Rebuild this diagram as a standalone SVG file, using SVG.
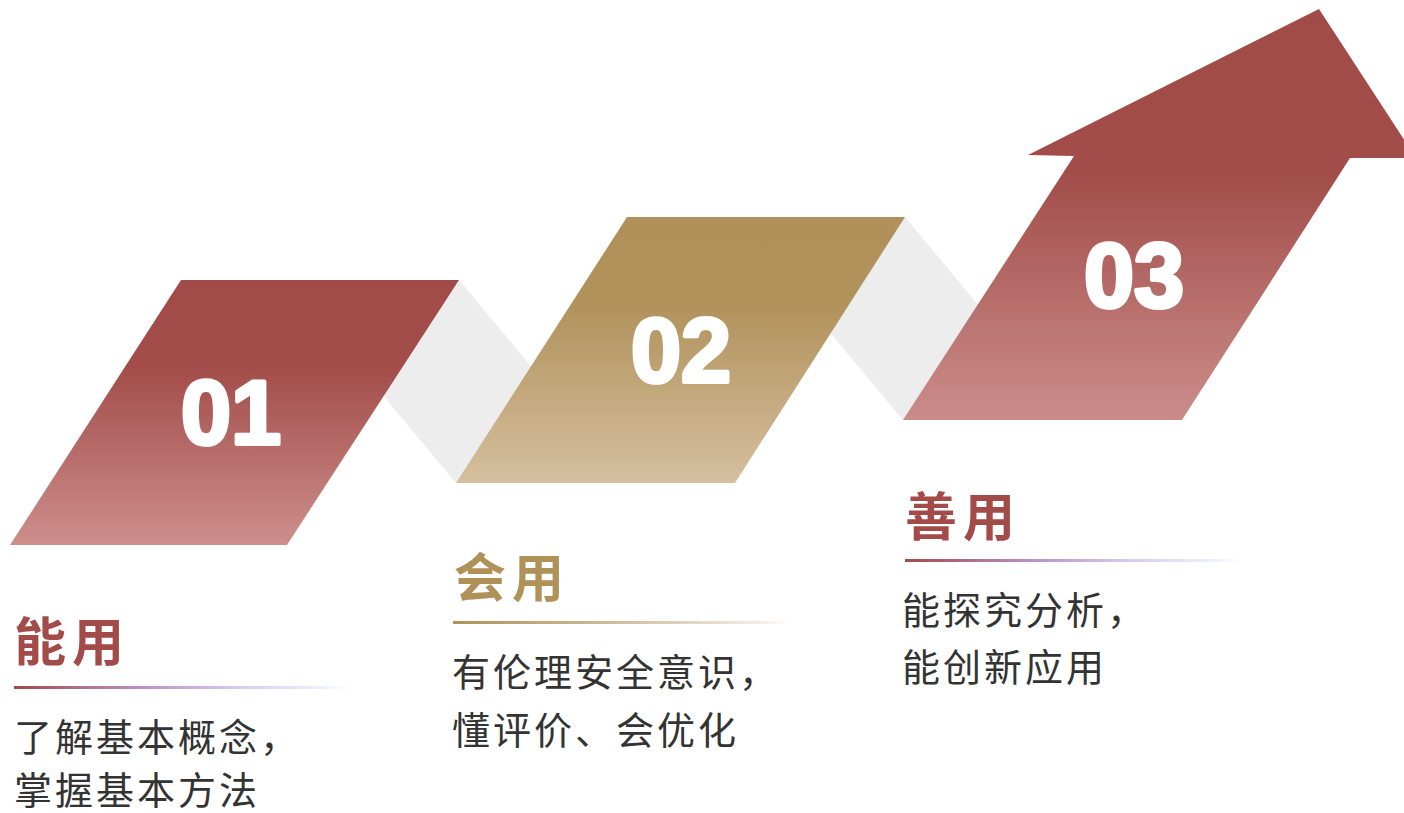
<svg xmlns="http://www.w3.org/2000/svg" width="1404" height="813" viewBox="0 0 1404 813">
<defs>
<linearGradient id="gRed1" x1="0" y1="280" x2="0" y2="545" gradientUnits="userSpaceOnUse">
<stop offset="0" stop-color="#A14B48"/><stop offset="0.33" stop-color="#A24D4A"/><stop offset="1" stop-color="#CD8F8C"/>
</linearGradient>
<linearGradient id="gGold" x1="0" y1="217" x2="0" y2="483" gradientUnits="userSpaceOnUse">
<stop offset="0" stop-color="#B0915A"/><stop offset="0.33" stop-color="#B1925B"/><stop offset="1" stop-color="#D5BF9F"/>
</linearGradient>
<linearGradient id="gRed3" x1="0" y1="9" x2="0" y2="420" gradientUnits="userSpaceOnUse">
<stop offset="0" stop-color="#A14B48"/><stop offset="0.4" stop-color="#A24D4A"/><stop offset="1" stop-color="#CB8D8A"/>
</linearGradient>
<linearGradient id="uRed" x1="0" y1="0" x2="1" y2="0">
<stop offset="0" stop-color="#A24B49"/><stop offset="0.35" stop-color="#B98CC2"/><stop offset="0.65" stop-color="#D6CBF2"/><stop offset="0.9" stop-color="#EEF0FE"/><stop offset="1" stop-color="#FFFFFF" stop-opacity="0"/>
</linearGradient>
<linearGradient id="uGold" x1="0" y1="0" x2="1" y2="0">
<stop offset="0" stop-color="#B09259"/><stop offset="0.5" stop-color="#D2BFA0"/><stop offset="0.9" stop-color="#F3EEE6"/><stop offset="1" stop-color="#FFFFFF" stop-opacity="0"/>
</linearGradient>
</defs>
<style>
.band{fill:#EDEDED}
.num{font-family:"Liberation Sans",Arial,sans-serif;font-weight:900;font-size:90px;fill:#FFFFFF;stroke:#FFFFFF;stroke-width:4;stroke-linejoin:round;text-anchor:middle}
.title{font-family:"Noto Sans CJK SC","Noto Sans",sans-serif;font-weight:700;font-size:52px;letter-spacing:6px}
.body{font-family:"Noto Sans CJK SC","Noto Sans",sans-serif;font-size:38px;letter-spacing:3px;fill:#333333}
.red{fill:#A24B49}
.gold{fill:#B09259}
</style>
<g id="connectors">
<polygon class="band" points="459,280 559,400 456,483 356,363"/>
<polygon class="band" points="905,217 1005,337 903,420 803,300"/>
</g>
<g id="node1">
<polygon points="181,280 459,280 287,545 10,545" fill="url(#gRed1)"/>
<text class="num" x="231" y="444">01</text>
<text class="title red" x="14" y="661">能用</text>
<rect x="14" y="686" width="345" height="3" fill="url(#uRed)"/>
<text class="body" x="14" y="751">了解基本概念，</text>
<text class="body" x="14" y="804">掌握基本方法</text>
</g>
<g id="node2">
<polygon points="627,217 905,217 735,483 456,483" fill="url(#gGold)"/>
<text class="num" x="681" y="382">02</text>
<text class="title gold" x="454" y="597">会用</text>
<rect x="453" y="621" width="345" height="3" fill="url(#uGold)"/>
<text class="body" x="452" y="686">有伦理安全意识，</text>
<text class="body" x="452" y="744">懂评价、会优化</text>
</g>
<g id="node3">
<polygon points="1319,9 1416,158 1350,158 1182,420 903,420 1074,156 1028,155" fill="url(#gRed3)"/>
<text class="num" x="1134" y="307">03</text>
<text class="title red" x="905" y="536">善用</text>
<rect x="905" y="559" width="345" height="3" fill="url(#uRed)"/>
<text class="body" x="902" y="624">能探究分析，</text>
<text class="body" x="902" y="681">能创新应用</text>
</g>
</svg>
